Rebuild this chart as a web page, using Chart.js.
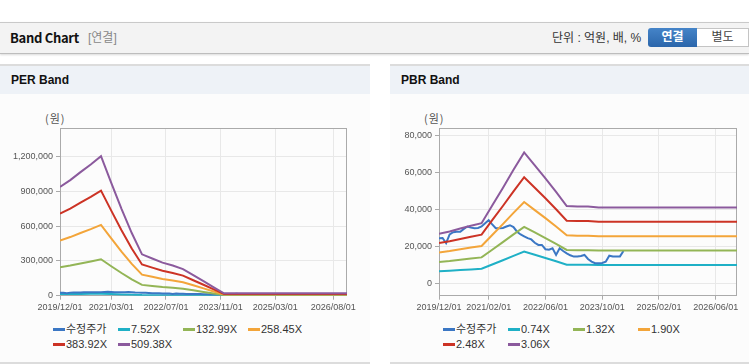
<!DOCTYPE html>
<html>
<head>
<meta charset="utf-8">
<script src="https://cdn.jsdelivr.net/npm/chart.js@4.4.1/dist/chart.umd.min.js"></script>
<style>
  body { margin: 0; width: 749px; height: 364px; position: relative; overflow: hidden; background: #fff;
         font-family: "Liberation Sans", Arial, "Noto Sans CJK KR", sans-serif; }
  #hdr { position: absolute; left: 0; top: 22px; width: 749px; height: 30px; background: #f3f3f3;
         border-top: 1px solid #c9c9c9; border-bottom: 1px solid #bdbdbd; box-shadow: 0 1px 2px rgba(0,0,0,0.15); }
  #hdr span { position: absolute; white-space: nowrap; }
  .ttl { left: 10px; top: 7px; font-size: 13px; font-weight: bold; color: #111; font-family: "Noto Sans CJK KR", sans-serif; letter-spacing: -0.3px; line-height: 16px; }
  .sub { left: 88px; top: 8px; font-size: 12px; color: #888; line-height: 14px; }
  .unit { left: 552px; top: 8px; font-size: 12px; color: #333; line-height: 14px; }
  .btn { top: 5px; height: 19px; line-height: 19px; font-size: 12px; text-align: center; }
  .on { left: 648px; width: 49px; background: linear-gradient(#4584c8, #2b66ab); color: #fff; font-weight: bold; border-radius: 3px 0 0 3px; }
  .off { left: 697px; width: 51px; background: #fff; color: #444; border: 1px solid #c4c4c4; border-left: none; height: 17px !important; line-height: 17px !important; top: 5px; }
  .panel { position: absolute; top: 64px; height: 296px; background: #fcfcfc; border-top: 2px solid #dcdcdc; border-bottom: 2px solid #dcdcdc; }
  .panel .bar { position: absolute; left: 0; top: 0; right: 0; height: 28px; background: #eef2f7; }
  .panel .bar b { position: absolute; left: 11px; top: 7px; font-size: 12px; color: #111; line-height: 14px; }
  .unitlbl { position: absolute; top: 111px; font-size: 11px; color: #555; letter-spacing: 1px; font-family: "Noto Sans CJK KR", sans-serif; line-height: 14px; }
  canvas { position: absolute; top: 100px; }
  .legend { position: absolute; top: 322px; width: 300px; font-size: 11px; color: #333; line-height: 15px; }
  .legend span { display: inline-block; width: 65px; white-space: nowrap; }
  .legend i { display: inline-block; width: 12px; height: 3px; margin-right: 1px; vertical-align: middle; position: relative; top: -1px; }
</style>
</head>
<body>
<div id="hdr">
  <span class="ttl">Band Chart</span><span class="sub">[연결]</span>
  <span class="unit">단위 : 억원, 배, %</span>
  <span class="btn on">연결</span><span class="btn off">별도</span>
</div>
<div class="panel" style="left:0;width:370px"><div class="bar"><b>PER Band</b></div></div>
<div class="panel" style="left:390px;width:359px"><div class="bar"><b>PBR Band</b></div></div>
<div class="unitlbl" style="left:45px">(원)</div>
<div class="unitlbl" style="left:424px">(원)</div>
<canvas id="per" width="370" height="215" style="left:0"></canvas>
<canvas id="pbr" width="359" height="215" style="left:390px"></canvas>
<div class="legend" id="perLegend" style="left:53px"></div>
<div class="legend" id="pbrLegend" style="left:443px"></div>

<script>
// quarterly dates for the band lines
const quarters = ['2019/12', '2020/03', '2020/06', '2020/09', '2020/12', '2021/03', '2021/06', '2021/09',
  '2021/12', '2022/03', '2022/06', '2022/09', '2022/12', '2023/03', '2023/06', '2023/09', '2023/12',
  '2024/03', '2024/06', '2024/09', '2024/12', '2025/03', '2025/06', '2025/09', '2025/12',
  '2026/03', '2026/06', '2026/09', '2026/12'];

// monthly adjusted price (수정주가), from 2019/12
const priceStart = '2019/12';
const adjPrice = [24500, 24600, 21800, 26500, 27700, 27900, 28000, 29500, 30800, 30200,
  29900, 30000, 30800, 32600, 34200, 32000, 29900, 29800, 30000, 30800,
  31500, 30500, 28000, 26500, 25500, 24500, 23800, 22000, 20800, 20800,
  18500, 18200, 19000, 15400, 19000, 17500, 16300, 15200, 14500, 14500,
  14800, 15400, 13200, 11800, 10900, 10900, 11000, 11700, 15000, 14500,
  14500, 14600, 17500];

// PER band
const perNames = ['수정주가', '7.52X', '132.99X', '258.45X', '383.92X', '509.38X'];
const per752 = [13840, 14700, 15720, 16690, 17750, 14360, 11050, 7970, 5260, 4740, 4210, 3840, 3380, 2610, 1840, 1070,
  300, 300, 300, 300, 300, 300, 300, 300, 300, 300, 300, 300, 300];
const per13299 = [244700, 260000, 277900, 295200, 313900, 254000, 195500, 141000, 93100, 83800, 74500, 67800, 59800, 46100, 32600, 18900,
  5300, 5300, 5300, 5300, 5300, 5300, 5300, 5300, 5300, 5300, 5300, 5300, 5300];
const per25845 = [475500, 505300, 540200, 573800, 609900, 493600, 379900, 274000, 180900, 162800, 144700, 131800, 116300, 89700, 63300, 36700,
  10300, 10300, 10300, 10300, 10300, 10300, 10300, 10300, 10300, 10300, 10300, 10300, 10300];
const per38392 = [706400, 750600, 802400, 852300, 906100, 733300, 564400, 407000, 268700, 241900, 215000, 195800, 172800, 133200, 94100, 54500,
  15400, 15400, 15400, 15400, 15400, 15400, 15400, 15400, 15400, 15400, 15400, 15400, 15400];
const per50938 = [937300, 995800, 1064600, 1130800, 1202100, 972900, 748800, 539900, 356600, 320900, 285300, 259800, 229200, 176800, 124800, 72300,
  20400, 20400, 20400, 20400, 20400, 20400, 20400, 20400, 20400, 20400, 20400, 20400, 20400];
const perXTicks = ['2019/12/01', '2021/03/01', '2022/07/01', '2023/11/01', '2025/03/01', '2026/08/01'];
const perYTicks = [0, 300000, 600000, 900000, 1200000];

// PBR band
const pbrNames = ['수정주가', '0.74X', '1.32X', '1.90X', '2.48X', '3.06X'];
const pbr074 = [6510, 6810, 7180, 7550, 7880, 10210, 12510, 14870, 17170, 15470, 13760, 11990, 10140, 10060, 10060,
  9950, 9950, 9950, 9950, 9950, 9950, 9950, 9950, 9950, 9950, 9950, 9950, 9950, 9950];
const pbr132 = [11620, 12140, 12800, 13460, 14060, 18220, 22310, 26530, 30620, 27590, 24550, 21380, 18080, 17950, 17950,
  17750, 17750, 17750, 17750, 17750, 17750, 17750, 17750, 17750, 17750, 17750, 17750, 17750, 17750];
const pbr190 = [16720, 17480, 18430, 19380, 20240, 26220, 32110, 38190, 44080, 39710, 35340, 30780, 26030, 25840, 25840,
  25560, 25560, 25560, 25560, 25560, 25560, 25560, 25560, 25560, 25560, 25560, 25560, 25560, 25560];
const pbr248 = [21820, 22820, 24060, 25300, 26410, 34220, 41910, 49850, 57540, 51830, 46130, 40180, 33980, 33730, 33730,
  33360, 33360, 33360, 33360, 33360, 33360, 33360, 33360, 33360, 33360, 33360, 33360, 33360, 33360];
const pbr306 = [26930, 28150, 29680, 31210, 32590, 42230, 51710, 61510, 70990, 63950, 56920, 49570, 41920, 41620, 41620,
  41160, 41160, 41160, 41160, 41160, 41160, 41160, 41160, 41160, 41160, 41160, 41160, 41160, 41160];
const pbrXTicks = ['2019/12/01', '2021/02/01', '2022/06/01', '2023/10/01', '2025/02/01', '2026/06/01'];
const pbrYTicks = [0, 20000, 40000, 60000, 80000];

const colors = ['#3b77c4', '#1fb0c6', '#93b556', '#f3a53a', '#cc3325', '#8b5a9d'];

Chart.defaults.font.family = '"Liberation Sans", Arial, sans-serif';

// months since 2019/12
function monthIndex(s) {
  const p = s.split('/').map(Number);
  return (p[0] - 2019) * 12 + p[1] - 12;
}

const frame = {
  id: 'frame',
  beforeDatasetsDraw(chart) {
    const {ctx, chartArea: a} = chart;
    ctx.save();
    ctx.strokeStyle = '#aaaaaa';
    ctx.lineWidth = 1;
    ctx.strokeRect(Math.round(a.left) + 0.5, Math.round(a.top) + 0.5,
      Math.round(a.right - a.left) - 1, Math.round(a.bottom - a.top) - 1);
    ctx.restore();
  }
};

function makeChart(id, names, bands, xTicks, yTicks, yMin, yMax, yWidth, padRight) {
  const start = monthIndex(priceStart);
  const series = [adjPrice.map((v, i) => ({x: start + i, y: v}))]
    .concat(bands.map(b => b.map((v, i) => ({x: monthIndex(quarters[i]), y: v}))));
  const drawOrder = [4, 5, 3, 2, 1, 0];
  new Chart(document.getElementById(id), {
    type: 'line',
    data: {
      datasets: series.map((d, i) => ({
        label: names[i],
        data: d,
        borderColor: colors[i],
        backgroundColor: colors[i],
        borderWidth: 2,
        pointRadius: 0,
        tension: 0,
        order: drawOrder[i]
      }))
    },
    options: {
      responsive: false,
      animation: false,
      layout: { padding: { top: 28, right: padRight, left: 0, bottom: 0 } },
      plugins: { legend: { display: false }, tooltip: { enabled: false } },
      scales: {
        x: {
          type: 'linear', min: 0, max: 84,
          afterBuildTicks: s => { s.ticks = xTicks.map(l => ({value: monthIndex(l.slice(0, 7))})); },
          afterFit: s => { s.height = 19.3; s.paddingLeft = 0; s.paddingRight = 0; },
          ticks: { callback: (v, i) => xTicks[i], color: '#555', font: {size: 9}, padding: 2,
                   minRotation: 0, maxRotation: 0, autoSkip: false },
          grid: { color: '#e8e8e8', tickColor: '#aaa', tickLength: 4 },
          border: { display: false }
        },
        y: {
          min: yMin, max: yMax,
          afterBuildTicks: s => { s.ticks = yTicks.map(v => ({value: v})); },
          afterFit: s => { s.width = yWidth; s.paddingTop = 0; s.paddingBottom = 0; },
          ticks: { callback: v => v.toLocaleString('en-US'), color: '#555', font: {size: 9}, padding: 3 },
          grid: { color: '#e8e8e8', tickColor: '#aaa', tickLength: 4 },
          border: { display: false }
        }
      }
    },
    plugins: [frame]
  });
}

function makeLegend(id, names) {
  document.getElementById(id).innerHTML = names.map((n, i) =>
    '<span><i style="background:' + colors[i] + '"></i>' + n + '</span>' + (i === 3 ? '<br>' : '')).join('');
}

makeChart('per', perNames, [per752, per13299, per25845, per38392, per50938], perXTicks, perYTicks, 0, 1445000, 60, 23);
makeChart('pbr', pbrNames, [pbr074, pbr132, pbr190, pbr248, pbr306], pbrXTicks, pbrYTicks, -6700, 84200, 49, 12);
makeLegend('perLegend', perNames);
makeLegend('pbrLegend', pbrNames);
</script>
</body>
</html>
